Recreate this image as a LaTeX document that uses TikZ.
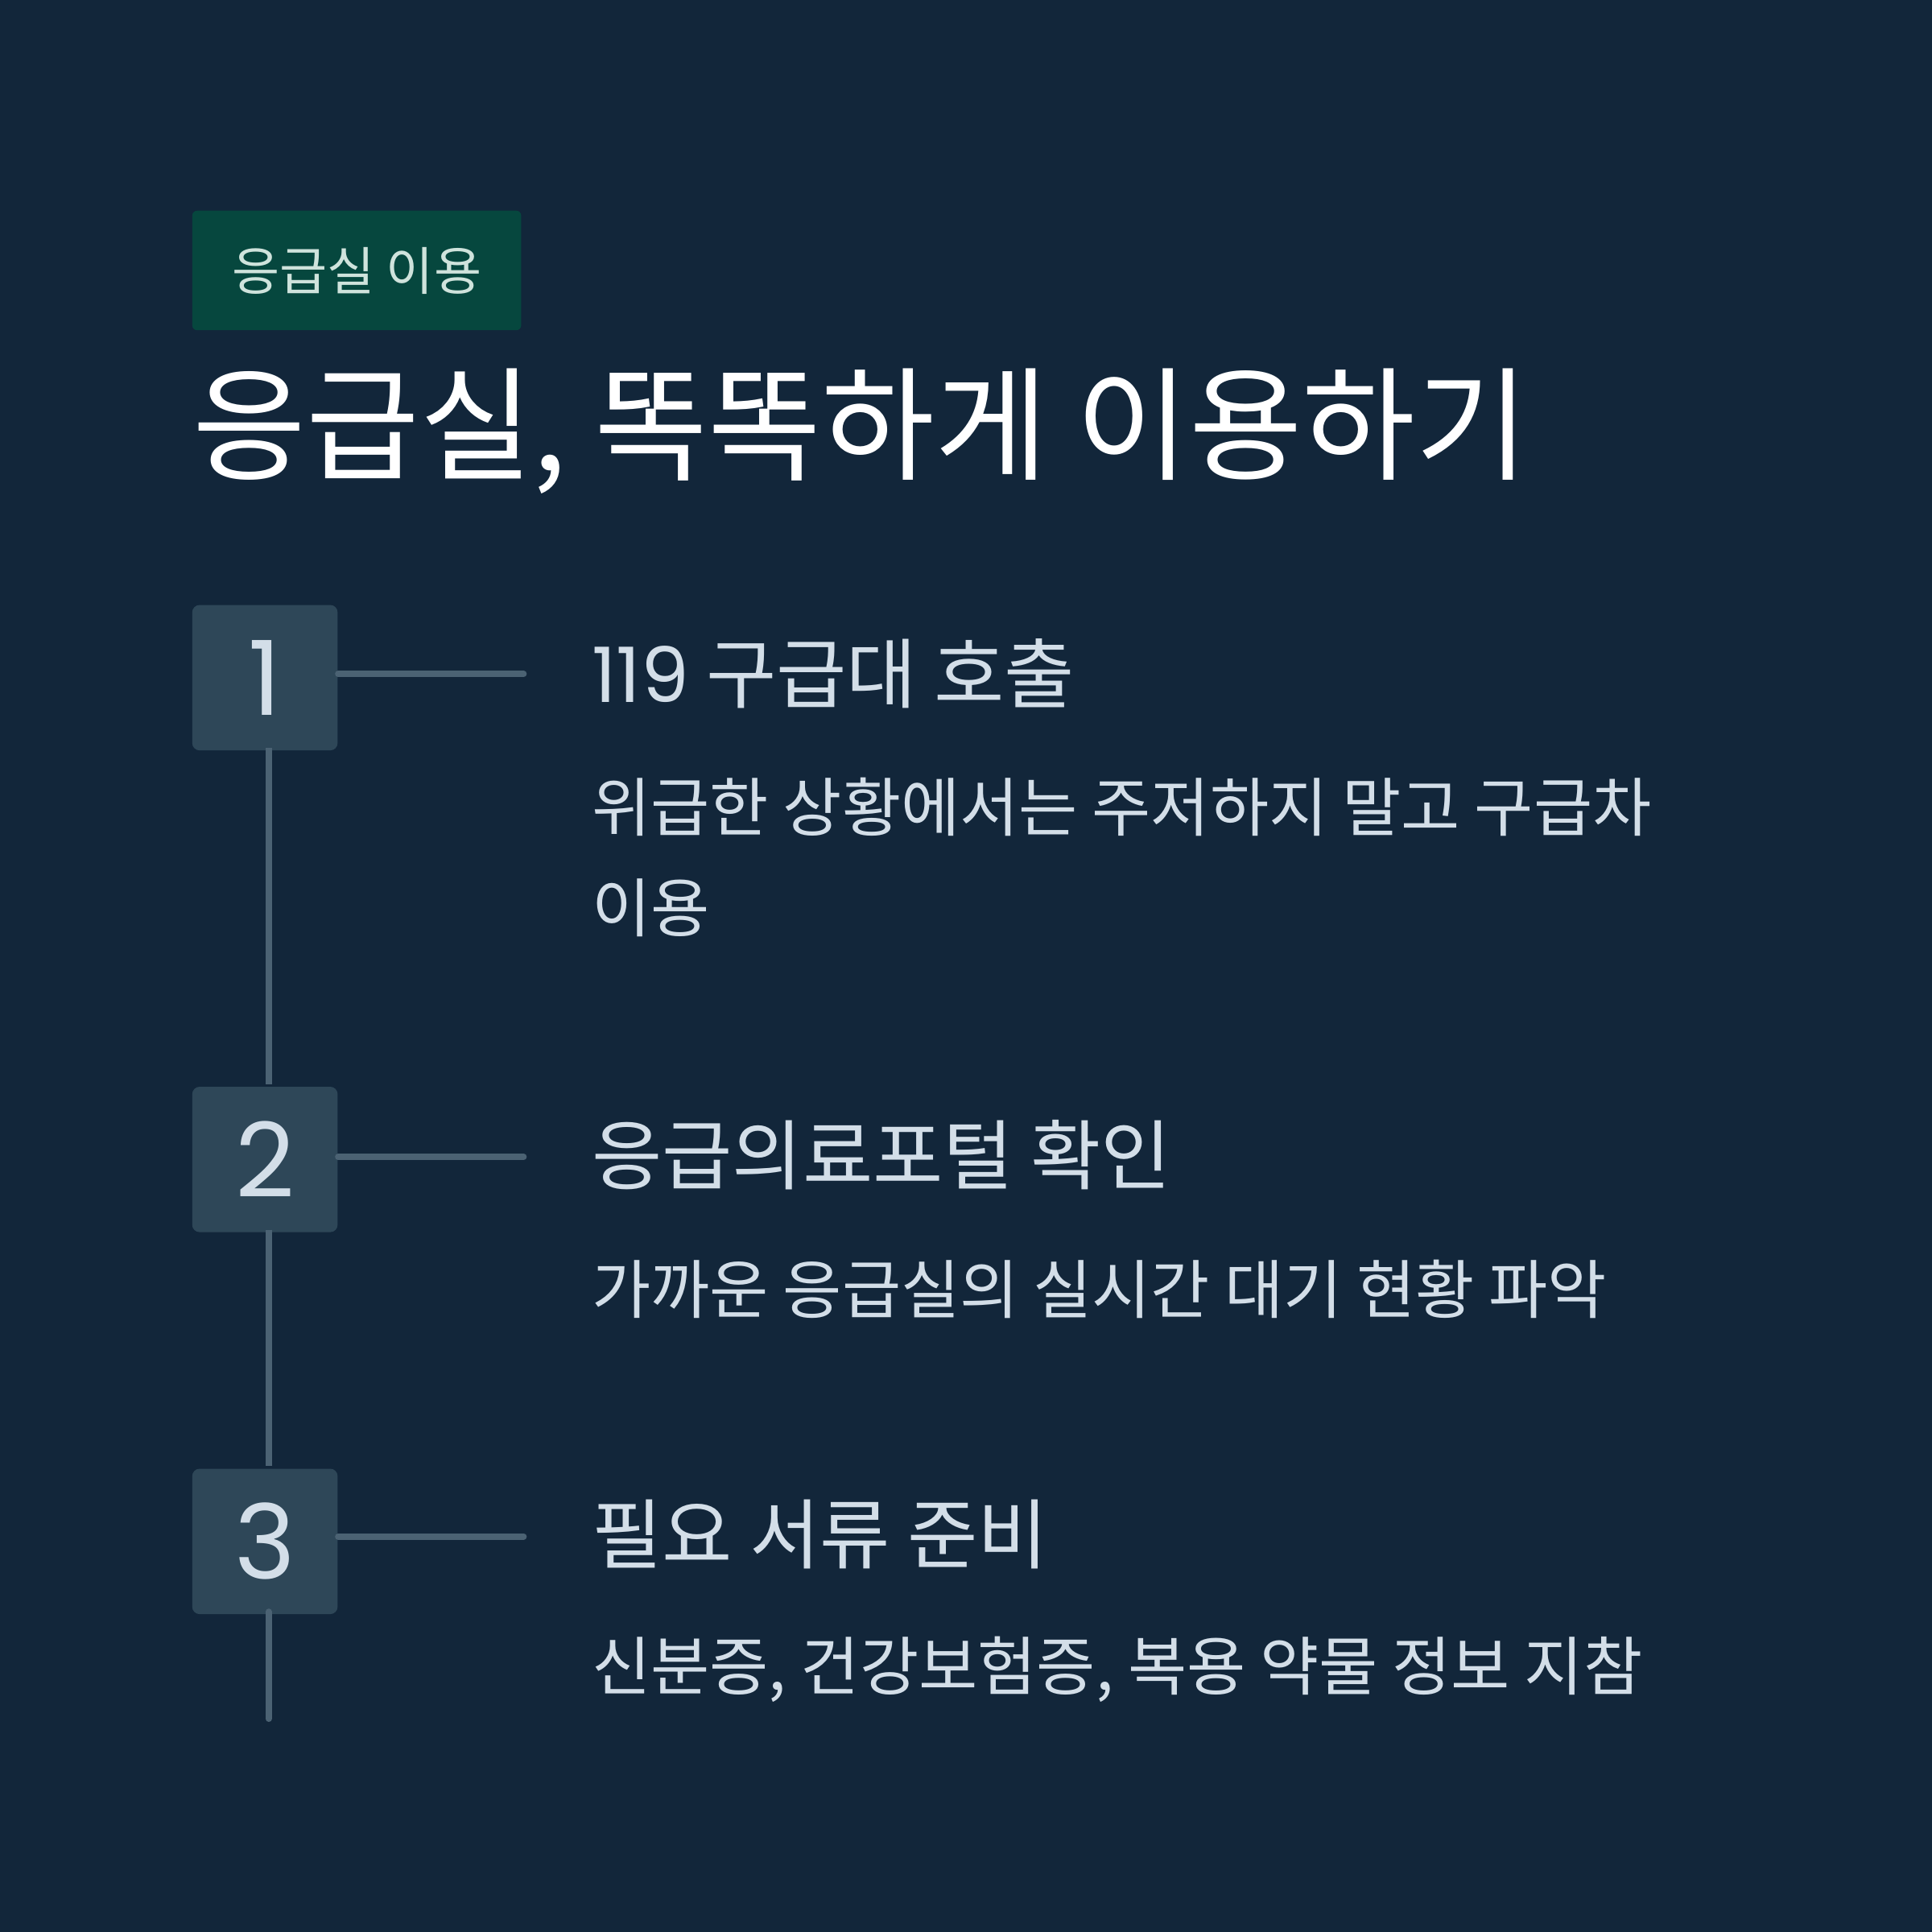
\documentclass[tikz,border=0pt]{standalone}
\usepackage{fontspec}
\setmainfont{Noto Sans CJK KR}
\newfontfamily\numfont{Poppins}
\definecolor{bg}{HTML}{12263A}
\definecolor{tagc}{HTML}{06473E}
\definecolor{boxc}{HTML}{2E4758}
\definecolor{linec}{HTML}{4B6273}
\definecolor{headc}{HTML}{D3DEE8}
\definecolor{tagt}{HTML}{CFE3DC}
\begin{document}
\begin{tikzpicture}[x=0.5pt,y=-0.5pt,
  numbox/.style={fill=boxc,rounded corners=3pt,minimum width=59pt,minimum height=59pt,inner sep=0pt,text=headc,font=\numfont\fontsize{42}{42}\selectfont},
  conn/.style={draw=linec,line width=2.5pt,line cap=round},
  head/.style={anchor=west,text=headc,inner sep=0pt,font=\fontsize{31}{31}\selectfont},
  body/.style={anchor=west,text=headc,inner sep=0pt,font=\fontsize{26}{26}\selectfont}]
\fill[bg] (0,0) rectangle (1568,1568);
\useasboundingbox (0,0) rectangle (1568,1568);
\node[fill=tagc,rounded corners=2pt,minimum width=133.5pt,minimum height=48.5pt,inner sep=0pt,text=tagt,font=\fontsize{21}{21}\selectfont] (tag) at (289.5,219.5) {응급실 이용};
\node[anchor=west,text=white,inner sep=0pt,font=\fontsize{50}{50}\selectfont] (title) at (156,350) {응급실, 똑똑하게 이용하기};
\node[numbox] (n1) at (215,550) {1};
\node[numbox] (n2) at (215,941) {2};
\node[numbox] (n3) at (215,1251) {3};
\coordinate (e1) at (425,547);
\coordinate (e2) at (425,939);
\coordinate (e3) at (425,1247);
\coordinate (bot) at (218,1395);
\draw[conn] (n1.east |- e1) -- (e1);
\draw[conn] (n2.east |- e2) -- (e2);
\draw[conn] (n3.east |- e3) -- (e3);
\draw[conn,line cap=butt] (218,607) -- (218,880);
\draw[conn,line cap=butt] (218,998) -- (218,1190);
\draw[conn] (218,1308) -- (bot);
\node[head] (h1) at (480,547) {{\numfont 119} 구급대 호출};
\node[body] (b1) at (480,655) {위급한 상황에서는 주저하지 말고 구급차};
\node[body] (b1b) at (480,737) {이용};
\node[head] (h2) at (480,937) {응급의료포털 확인};
\node[body] (b2) at (480,1046) {가까운 응급실의 실시간 대기 현황 파악};
\node[head] (h3) at (480,1245) {필요 서류 준비};
\node[body] (b3) at (480,1355) {신분증, 건강보험증, 복용 약물 정보 지참};
\end{tikzpicture}
\end{document}
